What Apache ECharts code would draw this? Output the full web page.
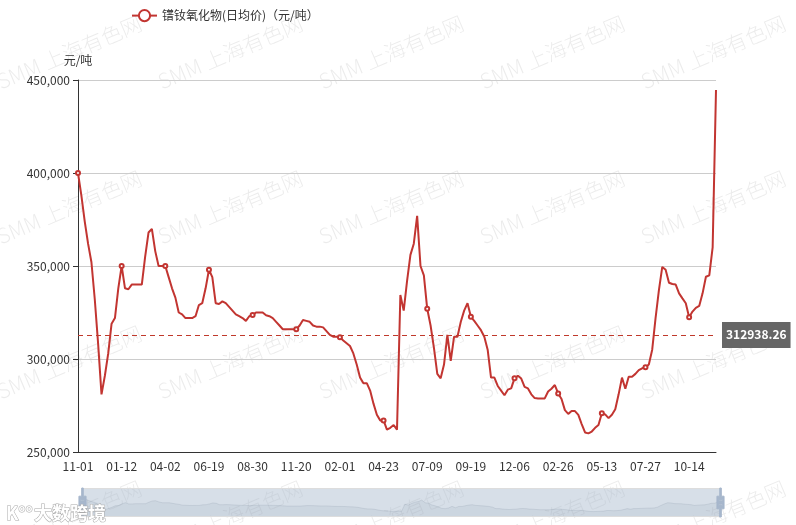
<!DOCTYPE html>
<html>
<head>
<meta charset="utf-8">
<script src="https://cdn.jsdelivr.net/npm/echarts@6/dist/echarts.min.js"></script>
<style>
html,body{margin:0;padding:0;background:#fff;}
#chart{width:796px;height:525px;}
</style>
</head>
<body>
<div id="chart"></div>
<script>
var seriesName = '镨钕氧化物(日均价)（元/吨）';
var yAxisName = '元/吨';
var averageValue = 312938.26;
var yTicks = [250000, 300000, 350000, 400000, 450000];

var categories = [
'2017-11-01','2017-11-07','2017-11-13','2017-11-17','2017-11-23','2017-11-29','2017-12-05','2017-12-11','2017-12-15','2017-12-21','2017-12-27',
'2018-01-03','2018-01-08','2018-01-12','2018-01-18','2018-01-24','2018-01-30','2018-02-05','2018-02-09','2018-02-23','2018-03-01',
'2018-03-07','2018-03-13','2018-03-19','2018-03-23','2018-03-29','2018-04-02','2018-04-09','2018-04-13','2018-04-19','2018-04-25',
'2018-05-03','2018-05-09','2018-05-15','2018-05-21','2018-05-25','2018-05-31','2018-06-06','2018-06-12','2018-06-19','2018-06-25',
'2018-06-29','2018-07-05','2018-07-11','2018-07-17','2018-07-23','2018-07-27','2018-08-02','2018-08-08','2018-08-14','2018-08-20',
'2018-08-24','2018-08-30','2018-09-05','2018-09-11','2018-09-17','2018-09-21','2018-09-28','2018-10-10','2018-10-16','2018-10-22',
'2018-10-26','2018-11-01','2018-11-07','2018-11-13','2018-11-20','2018-11-26','2018-11-30','2018-12-06','2018-12-12','2018-12-18',
'2018-12-24','2018-12-28',
'2019-01-04','2019-01-10','2019-01-16','2019-01-22','2019-01-28','2019-02-01','2019-02-13','2019-02-19','2019-02-25','2019-03-01',
'2019-03-07','2019-03-13','2019-03-19','2019-03-25','2019-03-29','2019-04-04','2019-04-11','2019-04-17','2019-04-23','2019-04-29',
'2019-05-08','2019-05-14','2019-05-20','2019-05-24','2019-05-30','2019-06-05','2019-06-12','2019-06-18','2019-06-24','2019-06-28',
'2019-07-04','2019-07-09','2019-07-15','2019-07-19','2019-07-25','2019-07-31','2019-08-06','2019-08-12','2019-08-16','2019-08-22',
'2019-08-28','2019-09-03','2019-09-09','2019-09-16','2019-09-19','2019-09-25','2019-10-08','2019-10-14','2019-10-18','2019-10-24',
'2019-10-30','2019-11-05','2019-11-11','2019-11-15','2019-11-21','2019-11-27','2019-12-03','2019-12-06','2019-12-12','2019-12-18',
'2019-12-24','2019-12-30',
'2020-01-06','2020-01-10','2020-01-16','2020-01-22','2020-02-05','2020-02-11','2020-02-17','2020-02-21','2020-02-26','2020-03-03',
'2020-03-09','2020-03-13','2020-03-19','2020-03-25','2020-03-31','2020-04-07','2020-04-13','2020-04-17','2020-04-23','2020-04-29',
'2020-05-08','2020-05-13','2020-05-19','2020-05-25','2020-05-29','2020-06-04','2020-06-10','2020-06-16','2020-06-22','2020-06-30',
'2020-07-06','2020-07-10','2020-07-16','2020-07-22','2020-07-27','2020-07-31','2020-08-06','2020-08-12','2020-08-18','2020-08-24',
'2020-08-28','2020-09-03','2020-09-09','2020-09-15','2020-09-21','2020-09-25','2020-10-09','2020-10-14','2020-10-20','2020-10-26',
'2020-10-30','2020-11-05','2020-11-11','2020-11-17','2020-11-23','2020-11-27'
];

var prices = [
400000,388000,374000,362000,352000,332000,308000,281000,291000,303000,
319000,322000,338000,350000,338000,337500,340000,340000,340000,340000,
355000,368000,370000,358000,350000,350000,350000,344000,338000,333000,
325000,324000,322000,322000,322000,323000,329000,330000,338000,348000,
344000,330000,329600,331000,330000,328000,326000,324000,323000,322000,
320500,323000,323600,325000,325000,325000,323500,323000,322000,320000,
318000,316000,316000,316000,316000,316000,318000,321000,320500,320000,
318000,317400,317400,317000,315000,313000,312000,312000,311700,310000,
308500,307000,303000,297000,290000,287000,287000,283000,276000,270000,
267000,267000,262000,263000,264500,262000,334400,326000,342000,356000,
362000,377000,350000,345000,327000,318000,306000,292000,289600,297000,
313000,299000,312000,312000,320000,326000,330000,322700,320500,318000,
315500,312000,305000,290000,290000,285500,283000,280500,283500,284200,
289600,291000,289500,285000,284200,281000,279000,278800,278800,278800,
282500,284000,286000,281500,278500,272500,270500,272000,272000,270000,
265000,260500,260000,261000,263000,264500,270800,270200,268200,270000,
273000,281000,290000,284000,290500,290500,292000,294000,295000,295500,
297000,305000,322000,337000,349500,348000,341000,340300,340000,335300,
332600,330000,322400,325500,327500,328500,335300,344200,345000,360000,
444600
];

var FONT = "'Microsoft YaHei','Noto Sans CJK SC',sans-serif";

var watermark = [];
for (var r = 0; r < 5; r++) {
  for (var c = 0; c < 5; c++) {
    watermark.push({
      type: 'text',
      x: 2 + c * 161,
      y: -63 + r * 155,
      rotation: 0.4,
      z: -10,
      silent: true,
      style: {
        text: 'SMM 上海有色网',
        fill: 'rgba(0,0,0,0.08)',
        font: '300 21px ' + FONT,
        textAlign: 'left',
        textVerticalAlign: 'bottom'
      }
    });
  }
}
watermark.push({
  type: 'text', x: 6, y: 522, z: 100, silent: true,
  style: { text: 'K°°', fill: '#fff', stroke: '#aaa', lineWidth: 1, font: 'bold 18px ' + FONT, textVerticalAlign: 'bottom' }
});
watermark.push({
  type: 'text', x: 34, y: 522, z: 100, silent: true,
  style: { text: '大数跨境', fill: '#fff', stroke: '#aaa', lineWidth: 1, font: 'bold 18px ' + FONT, textVerticalAlign: 'bottom' }
});

var chart = echarts.init(document.getElementById('chart'), null, {renderer: 'canvas'});
chart.setOption({
  animation: false,
  backgroundColor: '#fff',
  textStyle: { fontFamily: FONT },
  graphic: watermark,
  legend: {
    left: 126, top: 4,
    itemWidth: 25, itemHeight: 14,
    textStyle: { color: '#333', fontSize: 12, fontFamily: FONT },
    data: [seriesName]
  },
  grid: { left: 78, right: 80, top: 80, bottom: 73, containLabel: false },
  xAxis: {
    type: 'category',
    boundaryGap: false,
    data: categories,
    axisLine: { lineStyle: { color: '#333', width: 1 } },
    axisTick: { show: false },
    axisLabel: {
      interval: 12,
      color: '#333', fontSize: 12, margin: 8,
      formatter: function (v) { return v.slice(5); }
    },
    splitLine: { show: false }
  },
  yAxis: {
    type: 'value',
    name: yAxisName,
    nameGap: 14,
    nameTextStyle: { color: '#333', fontSize: 12 },
    min: yTicks[0], max: yTicks[yTicks.length - 1], interval: 50000,
    axisLine: { show: true, lineStyle: { color: '#333', width: 1 } },
    axisTick: { show: true, length: 5, lineStyle: { color: '#333' } },
    axisLabel: {
      color: '#333', fontSize: 12, margin: 8,
      formatter: function (v) { return v.toLocaleString('en-US'); }
    },
    splitLine: { show: true, lineStyle: { color: '#ccc', width: 1 } }
  },
  dataZoom: [{
    type: 'slider',
    start: 0, end: 100,
    left: 79, right: 77, top: 488, height: 29,
    showDetail: false,
    brushSelect: false,
    moveHandleSize: 0,
    backgroundColor: 'rgba(47,69,84,0)',
    fillerColor: 'rgba(167,183,204,0.45)',
    borderColor: '#ddd',
    borderRadius: 0,
    dataBackground: {
      lineStyle: { color: '#2f4554', width: 0.5, opacity: 0.3 },
      areaStyle: { color: 'rgba(47,69,84,0.3)', opacity: 0.3 }
    },
    selectedDataBackground: {
      lineStyle: { color: '#2f4554', width: 0.5, opacity: 0.3 },
      areaStyle: { color: 'rgba(47,69,84,0.3)', opacity: 0.3 }
    },
    handleIcon: 'path://M8.2,13.6V3.9H6.3v9.7H3.1v14.9h3.3v9.7h1.8v-9.7h3.3V13.6H8.2z M9.7,24.4H4.8v-1.4h4.9V24.4z M9.7,19.1H4.8v-1.4h4.9V19.1z',
    handleSize: '100%',
    handleStyle: { color: '#a7b7cc', borderColor: '#a7b7cc' },
    emphasis: { handleStyle: { color: '#a7b7cc', borderColor: '#a7b7cc' } }
  }],
  series: [{
    name: seriesName,
    type: 'line',
    data: prices,
    color: '#c23531',
    symbol: 'emptyCircle',
    symbolSize: 4,
    showAllSymbol: 'auto',
    lineStyle: { width: 2, color: '#c23531' },
    itemStyle: { color: '#c23531', borderColor: '#c23531' },
    markLine: {
      silent: true,
      symbol: 'none',
      lineStyle: { type: [5, 4], color: '#c0392b', width: 1.2, opacity: 1 },
      label: {
        show: true,
        position: 'end',
        distance: 6,
        color: '#fff',
        backgroundColor: '#666',
        padding: [5, 4],
        fontSize: 12,
        fontWeight: 'bold',
        lineHeight: 16,
        formatter: function () { return averageValue.toFixed(2); }
      },
      data: [{ yAxis: averageValue }]
    }
  }]
});
</script>
</body>
</html>
